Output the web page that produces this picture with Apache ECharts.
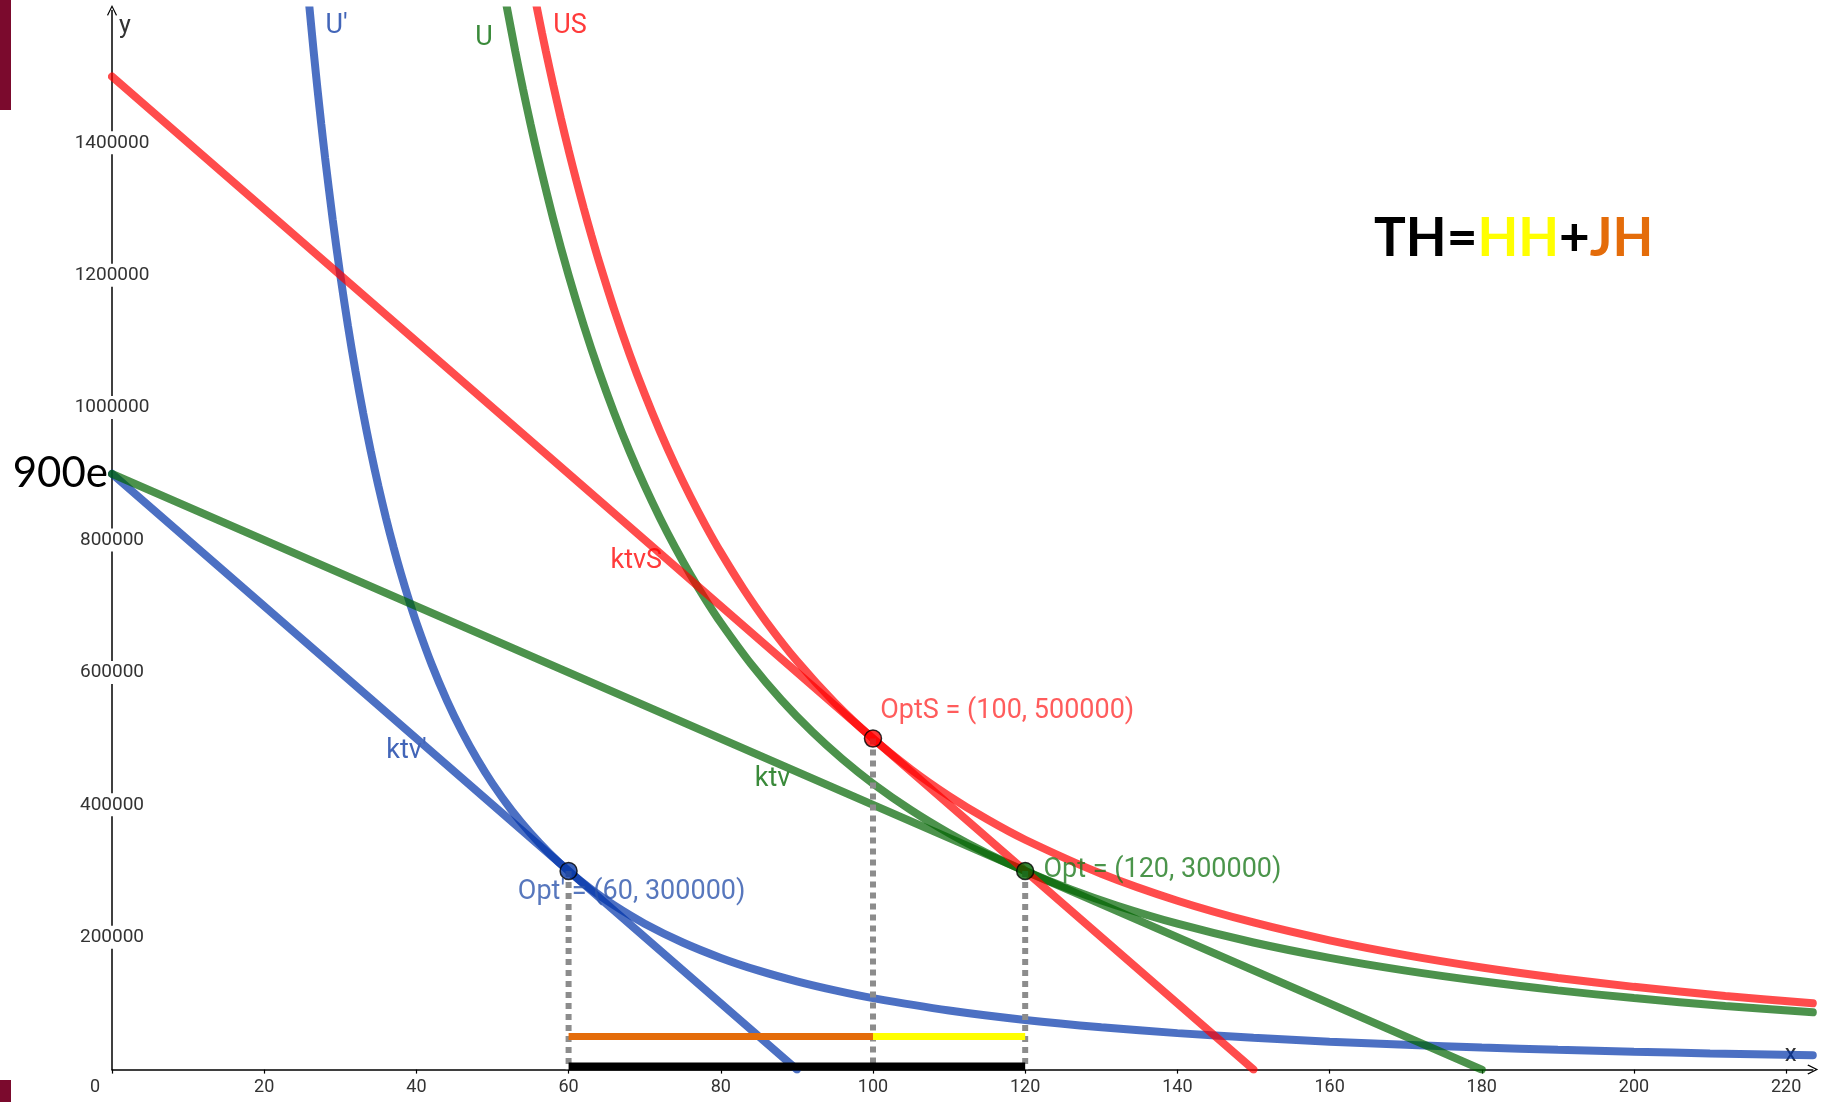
<!DOCTYPE html>
<html>
<head>
<meta charset="utf-8">
<script src="https://cdn.jsdelivr.net/npm/echarts@6/dist/echarts.min.js"></script>
<style>html,body{margin:0;padding:0;background:#fff}#c{width:1821px;height:1102px}</style>
</head>
<body>
<div id="c"></div>
<script>
// ---- data ----
const xTicks = [0, 20, 40, 60, 80, 100, 120, 140, 160, 180, 200, 220];
const yTicks = [200000, 400000, 600000, 800000, 1000000, 1200000, 1400000];

// budget lines
const ktvPrime = [[0, 900000], [90, 0]];
const ktv = [[0, 900000], [180, 0]];
const ktvS = [[0, 1500000], [150, 0]];

// indifference curves
const curveUPrime = [[25.9,1610000],[26.5,1537914],[27,1481481],[27.5,1428099],[28,1377551],[29,1284185],[30,1200000],[31,1123829],[32,1054688],[33,991736],[34,934256],[35,881633],[36,833333],[37,788897],[38,747922],[39,710059],[40,675000],[42,612245],[44,557851],[46,510397],[48,468750],[50,432000],[52.5,391837],[55,357025],[57.5,326654],[60,300000],[63,272109],[66,247934],[70,220408],[75,192000],[80,168750],[85,149481],[90,133333],[95,119668],[100,108000],[110,89256],[120,75000],[130,63905],[140,55102],[150,48000],[160,42188],[170,37370],[180,33333],[190,29917],[200,27000],[210,24490],[223.5,21620]];
const curveU = [[51.8,1610000],[53,1537914],[54,1481481],[55,1428099],[56,1377551],[58,1284185],[60,1200000],[62,1123829],[64,1054688],[66,991736],[68,934256],[70,881633],[72,833333],[74,788897],[76,747922],[78,710059],[80,675000],[84,612245],[88,557851],[92,510397],[96,468750],[100,432000],[105,391837],[110,357025],[115,326654],[120,300000],[126,272109],[132,247934],[140,220408],[150,192000],[160,168750],[170,149481],[180,133333],[190,119668],[200,108000],[212,96120],[223.5,86483]];
const curveUS = [[55.7,1611609],[56.5,1566293],[57,1538935],[58,1486326],[59,1436369],[60,1388889],[61,1343725],[62,1300728],[63,1259763],[64,1220703],[66,1147842],[68,1081315],[70,1020408],[72,964506],[74,913075],[76,865651],[78,821828],[80,781250],[83,725795],[86,676041],[90,617284],[95,554017],[100,500000],[105,453515],[110,413223],[115,378072],[120,347222],[130,295858],[140,255102],[150,222222],[160,195313],[170,173010],[180,154321],[190,138504],[200,125000],[212,111250],[223.5,100096]];

// optimum points
const optNames = ["OptS", "Opt", "Opt'"];
const optX = [100, 120, 60];
const optY = [500000, 300000, 300000];

// effect segments
const jhRange = [60, 100];
const hhRange = [100, 120];
const thRange = [60, 120];
const effectLevel = 50000;
const thLevel = 4500;

// ---- styling ----
const BLUE = '#0033aa', GREEN = '#006400', RED = '#ff0000';
const LINE_OPACITY = 0.7;
const arrowPath = 'path://M0,10 L5,0 L10,10 L9,10.8 L5,2.6 L1,10.8 Z';
const LINE_W = 8;
const LABEL_FS = 27;

function lineSeries(name, data, color, smooth, z) {
  return {
    name: name, type: 'line', data: data, smooth: smooth, symbol: 'none',
    lineStyle: { color: color, width: LINE_W, opacity: LINE_OPACITY, cap: 'round' }, z: z, silent: true, clip: true
  };
}
function nameMark(name, coord, color) {
  return {
    symbol: 'circle', symbolSize: 0, silent: true,
    data: [{ coord: coord, label: { show: true, position: 'inside', formatter: name, color: color, fontSize: LABEL_FS, fontFamily: 'Roboto' } }]
  };
}

const sUP = lineSeries("U'", curveUPrime, BLUE, 0.3, 3);
sUP.markPoint = nameMark("U'", [29.5, 1576400], '#4265b8');
const sKP = lineSeries("ktv'", ktvPrime, BLUE, false, 3);
sKP.markPoint = nameMark("ktv'", [38.7, 481300], '#4265b8');
const sK = lineSeries('ktv', ktv, GREEN, false, 4);
sK.markPoint = {
  symbol: 'circle', symbolSize: 0, silent: true,
  data: [
    { coord: [86.8, 439000], label: { show: true, position: 'inside', formatter: 'ktv', color: '#3a8a3a', fontSize: LABEL_FS, fontFamily: 'Roboto' } },
    { coord: [0, 900000], label: { show: true, position: 'left', distance: 4, formatter: '900e', color: '#000', fontSize: 42, fontFamily: 'Lato' } }
  ]
};
const sU = lineSeries('U', curveU, GREEN, 0.3, 4);
sU.markPoint = nameMark('U', [48.9, 1558000], '#3a8a3a');
const sKS = lineSeries('ktvS', ktvS, RED, false, 5);
sKS.markPoint = nameMark('ktvS', [68.9, 768300], '#ff3b3b');
const sUS = lineSeries('US', curveUS, RED, 0.3, 5);
sUS.markPoint = nameMark('US', [60.2, 1576400], '#ff3b3b');

const dashSeries = optX.map(function (x, i) {
  return {
    type: 'line', symbol: 'none', silent: true, z: 6,
    data: [[x, optY[i]], [x, 0]],
    lineStyle: { color: '#8c8c8c', width: 6, type: [6, 5] }
  };
});

function segSeries(range, level, color, w) {
  return {
    type: 'line', symbol: 'none', silent: true, z: 7,
    data: [[range[0], level], [range[1], level]],
    lineStyle: { color: color, width: w, cap: 'butt' }
  };
}

const optFill = ['#ff0000', '#006400', '#0a3ba8'];
const optLabelColor = ['#ff3333', '#1e7b1e', '#2d55ad'];
const optLabelOffset = [[-2, -27], [9, -1], [-60, 21]];
const optData = optNames.map(function (n, i) {
  return {
    name: n, value: [optX[i], optY[i]],
    itemStyle: { color: optFill[i], borderColor: '#000', borderWidth: 1.5 },
    label: { show: true, position: 'right', distance: 0, offset: optLabelOffset[i], color: optLabelColor[i] }
  };
});

const option = {
  animation: false,
  backgroundColor: '#fff',
  grid: { left: 112, top: 10.4, bottom: 32.4, width: 1700.8, containLabel: false },
  xAxis: {
    type: 'value', min: 0, max: 223.5, interval: 20,
    axisLine: { show: true, onZero: false, lineStyle: { color: '#000', width: 1.5 }, symbol: ['none', arrowPath], symbolSize: [10, 12] },
    axisTick: { show: true, length: 4, lineStyle: { color: '#000', width: 1.2 } },
    splitLine: { show: false },
    axisLabel: {
      showMaxLabel: false, margin: 9, color: '#333', fontSize: 18, fontFamily: 'Roboto',
      formatter: function (v) { if (xTicks.indexOf(v) < 0) return ''; return v === 0 ? '{z|0}' : String(v); },
      rich: { z: { padding: [0, 34, 0, 0], color: '#333', fontSize: 18, fontFamily: 'Roboto' } }
    },
    name: 'x', nameLocation: 'end', nameGap: -22,
    nameTextStyle: { align: 'center', verticalAlign: 'bottom', padding: [0, 0, 3, 0], color: '#333', fontSize: 24, fontFamily: 'Roboto' }
  },
  yAxis: {
    type: 'value', min: 0, max: 1600000, interval: 200000,
    axisLine: { show: true, onZero: false, lineStyle: { color: '#000', width: 1.5 }, symbol: ['none', arrowPath], symbolSize: [10, 12] },
    axisTick: { show: true, length: 4, lineStyle: { color: '#000', width: 1.2 } },
    splitLine: { show: false },
    axisLabel: {
      showMinLabel: false, showMaxLabel: false, align: 'center', margin: 0,
      backgroundColor: '#fff', padding: [2, 1], color: '#333', fontSize: 19, fontFamily: 'Roboto',
      formatter: function (v) { return yTicks.indexOf(v) < 0 ? '' : String(v); }
    },
    name: 'y', nameLocation: 'end', nameGap: -16,
    nameTextStyle: { align: 'left', verticalAlign: 'middle', padding: [0, 0, 0, 7], color: '#333', fontSize: 25, fontFamily: 'Roboto' }
  },
  series: [sKP, sUP, sK, sU, sKS, sUS].concat(dashSeries).concat([
    segSeries(jhRange, effectLevel, '#e46c0a', 7),
    segSeries(hhRange, effectLevel, '#ffff00', 7),
    segSeries(thRange, thLevel, '#000000', 8),
    {
      type: 'scatter', symbolSize: 17, z: 10, silent: true, data: optData,
      label: {
        show: true, fontSize: LABEL_FS, fontFamily: 'Roboto',
        formatter: function (p) { return p.name + ' = (' + p.value[0] + ', ' + p.value[1] + ')'; }
      }
    }
  ]),
  graphic: [
    { type: 'rect', shape: { x: 0, y: 0, width: 11, height: 110 }, style: { fill: '#7b0a2d' }, silent: true },
    { type: 'rect', shape: { x: 0, y: 1080, width: 11, height: 22 }, style: { fill: '#7b0a2d' }, silent: true },
    {
      type: 'text', x: 1374, y: 239, silent: true,
      style: {
        text: '{k|TH=}{y|HH}{k|+}{o|JH}', verticalAlign: 'middle',
        rich: {
          k: { fill: '#000', fontSize: 53, fontWeight: 'bold', fontFamily: 'Lato' },
          y: { fill: '#ffff00', fontSize: 53, fontWeight: 'bold', fontFamily: 'Lato' },
          o: { fill: '#e46c0a', fontSize: 53, fontWeight: 'bold', fontFamily: 'Lato' }
        }
      }
    }
  ]
};

const chart = echarts.init(document.getElementById('c'), null, { renderer: 'canvas' });
chart.setOption(option);
</script>
</body>
</html>
